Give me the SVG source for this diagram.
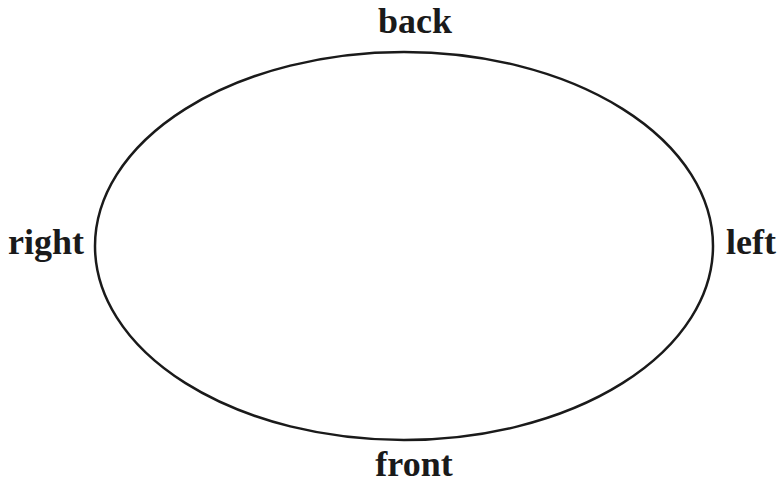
<svg xmlns="http://www.w3.org/2000/svg" width="778" height="483" viewBox="0 0 778 483">
<style>
text{font-family:"Liberation Serif","Times New Roman",serif;font-weight:bold;font-size:36px;fill:#1a1a1a}
.e{fill:none;stroke:#1a1a1a;stroke-width:2.5}
</style>
<rect width="778" height="483" fill="#fff"/>
<g id="ellipse"><ellipse class="e" cx="404" cy="246" rx="309" ry="194"/></g>
<g id="connectors"></g>
<g id="back"><text x="415" y="33" text-anchor="middle">back</text></g>
<g id="right"><text x="8" y="254">right</text></g>
<g id="left"><text x="726" y="254">left</text></g>
<g id="front"><text x="414" y="476" text-anchor="middle">front</text></g>
</svg>
